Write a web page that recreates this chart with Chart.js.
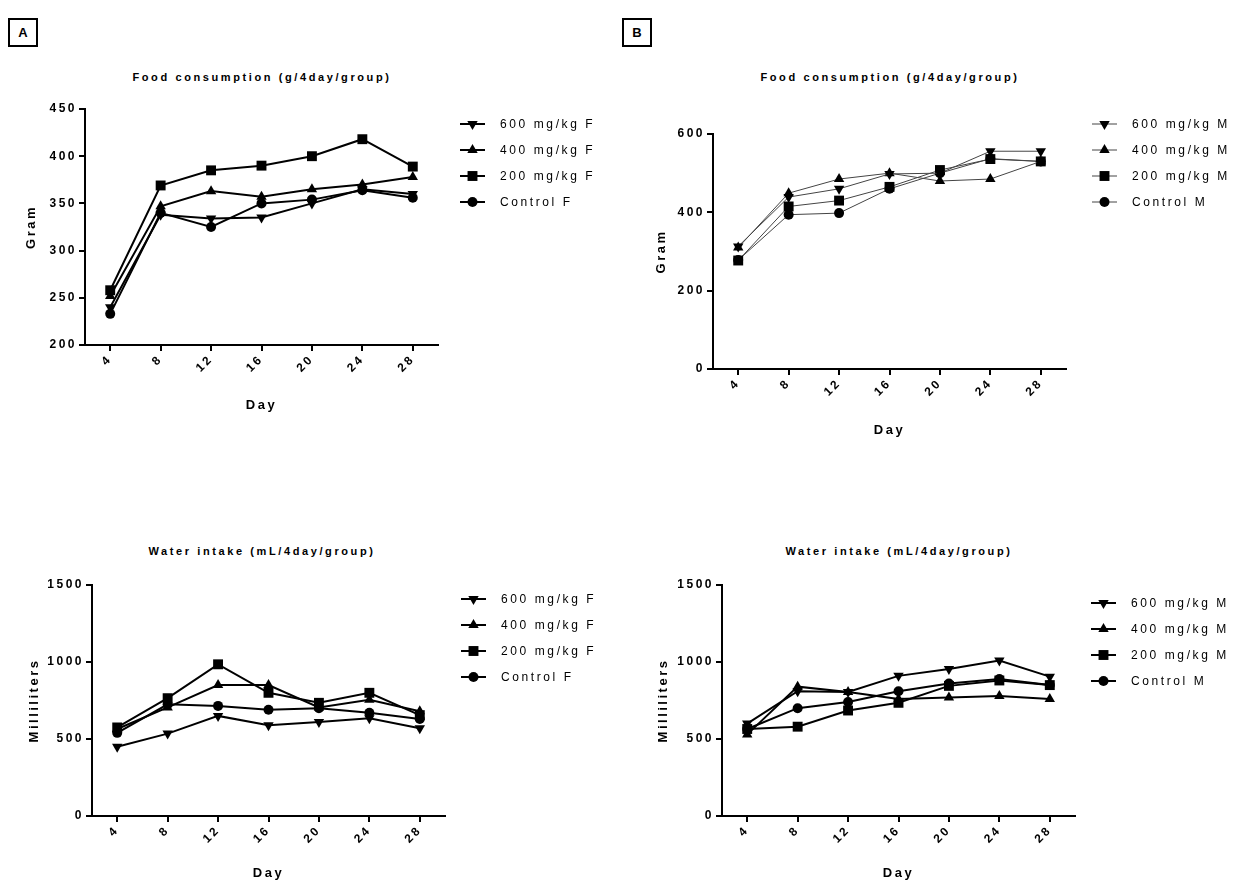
<!DOCTYPE html>
<html>
<head>
<meta charset="utf-8">
<script src="https://cdn.jsdelivr.net/npm/chart.js@4.4.0/dist/chart.umd.min.js"></script>
<style>
  body { margin: 0; background: #fff; width: 1240px; height: 886px; position: relative; overflow: hidden;
         font-family: "Liberation Sans", Arial, sans-serif; }
  .panel-label { position: absolute; width: 26px; height: 25px; border: 2px solid #000;
                 font-weight: bold; font-size: 13px; line-height: 25px; text-align: center; }
  .title { position: absolute; transform: translateX(-50%); white-space: nowrap;
           font-weight: bold; font-size: 11px; letter-spacing: 2.6px; }
  canvas { position: absolute; }
</style>
</head>
<body>
<div class="panel-label" style="left:8px;top:18px;">A</div>
<div class="panel-label" style="left:622px;top:18px;">B</div>

<div class="title" style="left:262px;top:71px;">Food consumption (g/4day/group)</div>
<div class="title" style="left:890px;top:71px;">Food consumption (g/4day/group)</div>
<div class="title" style="left:262px;top:545px;">Water intake (mL/4day/group)</div>
<div class="title" style="left:899px;top:545px;">Water intake (mL/4day/group)</div>

<canvas id="foodF" style="left:0px;top:90px;" width="620" height="340"></canvas>
<canvas id="foodM" style="left:620px;top:90px;" width="620" height="370"></canvas>
<canvas id="waterF" style="left:0px;top:560px;" width="620" height="326"></canvas>
<canvas id="waterM" style="left:620px;top:560px;" width="620" height="326"></canvas>

<script>
// --- Data ---
const days = [4, 8, 12, 16, 20, 24, 28];

// Food consumption, females (g/4day/group)
const food600F  = [240, 338, 334, 335, 350, 365, 360];
const food400F  = [252, 347, 363, 357, 365, 370, 378];
const food200F  = [258, 369, 385, 390, 400, 418, 389];
const foodCtrlF = [233, 340, 325, 350, 354, 364, 356];

// Food consumption, males
const food600M  = [313, 439, 460, 498, 500, 556, 556];
const food400M  = [310, 449, 485, 500, 480, 485, 530];
const food200M  = [277, 415, 430, 465, 508, 536, 530];
const foodCtrlM = [278, 394, 398, 460, 500, 537, 530];

// Water intake, females (mL/4day/group)
const water600F  = [450, 535, 650, 590, 610, 635, 570];
const water400F  = [565, 705, 850, 850, 705, 755, 680];
const water200F  = [575, 765, 985, 800, 735, 800, 655];
const waterCtrlF = [540, 725, 715, 690, 700, 670, 630];

// Water intake, males
const water600M  = [600, 810, 805, 910, 955, 1010, 905];
const water400M  = [530, 840, 805, 760, 770, 780, 760];
const water200M  = [565, 580, 685, 735, 845, 880, 850];
const waterCtrlM = [565, 700, 740, 810, 860, 890, 850];

const FONT = '"Liberation Sans", Arial, sans-serif';

// --- Plugins ---
// canvas letter spacing (GraphPad style wide text)
const spacing = {
  id: 'spacing',
  beforeLayout(chart) { chart.ctx.letterSpacing = '2.5px'; },
  beforeDraw(chart) { chart.ctx.letterSpacing = '2.5px'; }
};

function markerPath(ctx, style, r, rot, x, y) {
  ctx.beginPath();
  if (style === 'circle') {
    ctx.arc(x, y, r, 0, Math.PI * 2);
  } else if (style === 'rect') {
    const s = r * Math.SQRT1_2;
    ctx.rect(x - s, y - s, 2 * s, 2 * s);
  } else {
    let a = (rot || 0) * Math.PI / 180;
    for (let k = 0; k < 3; k++) {
      const px = x + Math.sin(a) * r, py = y - Math.cos(a) * r;
      k === 0 ? ctx.moveTo(px, py) : ctx.lineTo(px, py);
      a += 2 * Math.PI / 3;
    }
    ctx.closePath();
  }
  ctx.fill();
}

// legend on the right of the plot: line + marker + label
const sideLegend = {
  id: 'sideLegend',
  afterDraw(chart, args, opts) {
    const ctx = chart.ctx;
    const x0 = chart.chartArea.right + opts.dx;
    ctx.save();
    ctx.letterSpacing = '2.6px';
    ctx.font = '12px ' + FONT;
    ctx.textBaseline = 'middle';
    ctx.fillStyle = '#000';
    chart.data.datasets.forEach((ds, i) => {
      const y = chart.chartArea.top + opts.top + i * opts.gap;
      ctx.strokeStyle = ds.borderColor;
      ctx.lineWidth = ds.borderWidth;
      ctx.beginPath();
      ctx.moveTo(x0, y);
      ctx.lineTo(x0 + 25, y);
      ctx.stroke();
      markerPath(ctx, ds.pointStyle, ds.pointRadius, ds.pointRotation, x0 + 12.5, y);
      ctx.fillText(ds.label, x0 + 40, y + 1);
    });
    ctx.restore();
  }
};

// --- Chart builder ---
function series(label, values, style, lw, color) {
  const radius = { triangle: 6, rect: 7, circle: 5 }[style];
  return {
    label: label,
    data: days.map((d, i) => ({ x: d, y: values[i] })),
    borderColor: color,
    borderWidth: lw,
    pointStyle: style,
    pointRotation: label.startsWith('600') ? 180 : 0,
    pointRadius: radius,
    pointHoverRadius: radius,
    pointBackgroundColor: '#000',
    pointBorderColor: '#000',
    pointBorderWidth: 0,
    tension: 0
  };
}

function makeChart(id, opt) {
  const tickFont = { family: FONT, size: 12, weight: 'bold' };
  const titleFont = { family: FONT, size: 13, weight: 'bold' };
  return new Chart(document.getElementById(id), {
    type: 'line',
    data: { datasets: opt.datasets },
    options: {
      responsive: false,
      animation: false,
      events: [],
      layout: { padding: opt.padding },
      plugins: {
        legend: { display: false },
        tooltip: { enabled: false },
        sideLegend: opt.legend
      },
      scales: {
        x: {
          type: 'linear',
          min: 2,
          max: 30,
          afterBuildTicks: s => { s.ticks = days.map(v => ({ value: v })); },
          afterFit: s => { s.height = opt.xHeight; },
          border: { color: '#000', width: 2 },
          grid: { drawOnChartArea: false, drawTicks: true, tickLength: 6, color: '#000', lineWidth: 2 },
          ticks: { color: '#000', font: tickFont, minRotation: 45, maxRotation: 45, padding: 1,
                   callback: v => String(v) },
          title: { display: true, text: 'Day', color: '#000', font: titleFont, padding: { top: 4, bottom: 4 } }
        },
        y: {
          min: opt.yMin,
          max: opt.yMax,
          ticks: { stepSize: opt.yStep, color: '#000', font: tickFont, padding: 2,
                   callback: v => String(v) },
          afterFit: s => { s.width = opt.yWidth; },
          border: { color: '#000', width: 2 },
          grid: { drawOnChartArea: false, drawTicks: true, tickLength: 6, color: '#000', lineWidth: 2 },
          title: { display: true, text: opt.yTitle, color: '#000', font: titleFont, padding: { top: 4, bottom: 4 } }
        }
      }
    },
    plugins: [spacing, sideLegend]
  });
}

// --- A: food, females ---
makeChart('foodF', {
  datasets: [
    series('600 mg/kg F', food600F, 'triangle', 2, '#000'),
    series('400 mg/kg F', food400F, 'triangle', 2, '#000'),
    series('200 mg/kg F', food200F, 'rect', 2, '#000'),
    series('Control F', foodCtrlF, 'circle', 2, '#000')
  ],
  padding: { left: 20, top: 19, right: 182, bottom: 13 },
  yWidth: 65, xHeight: 72,
  yMin: 200, yMax: 450, yStep: 50, yTitle: 'Gram',
  legend: { dx: 22, top: 15, gap: 26 }
});

// --- B: food, males ---
makeChart('foodM', {
  datasets: [
    series('600 mg/kg M', food600M, 'triangle', 1, '#444'),
    series('400 mg/kg M', food400M, 'triangle', 1, '#444'),
    series('200 mg/kg M', food200M, 'rect', 1, '#444'),
    series('Control M', foodCtrlM, 'circle', 1, '#444')
  ],
  padding: { left: 30, top: 44, right: 174, bottom: 18 },
  yWidth: 63, xHeight: 73,
  yMin: 0, yMax: 600, yStep: 200, yTitle: 'Gram',
  legend: { dx: 26, top: -10, gap: 26 }
});

// --- A: water, females ---
makeChart('waterF', {
  datasets: [
    series('600 mg/kg F', water600F, 'triangle', 2, '#000'),
    series('400 mg/kg F', water400F, 'triangle', 2, '#000'),
    series('200 mg/kg F', water200F, 'rect', 2, '#000'),
    series('Control F', waterCtrlF, 'circle', 2, '#000')
  ],
  padding: { left: 23, top: 25, right: 175, bottom: 1 },
  yWidth: 69, xHeight: 69,
  yMin: 0, yMax: 1500, yStep: 500, yTitle: 'Milliliters',
  legend: { dx: 16, top: 14, gap: 26 }
});

// --- B: water, males ---
makeChart('waterM', {
  datasets: [
    series('600 mg/kg M', water600M, 'triangle', 2, '#000'),
    series('400 mg/kg M', water400M, 'triangle', 2, '#000'),
    series('200 mg/kg M', water200M, 'rect', 2, '#000'),
    series('Control M', waterCtrlM, 'circle', 2, '#000')
  ],
  padding: { left: 32, top: 25, right: 165, bottom: 1 },
  yWidth: 70, xHeight: 69,
  yMin: 0, yMax: 1500, yStep: 500, yTitle: 'Milliliters',
  legend: { dx: 16, top: 18, gap: 26 }
});
</script>
</body>
</html>
